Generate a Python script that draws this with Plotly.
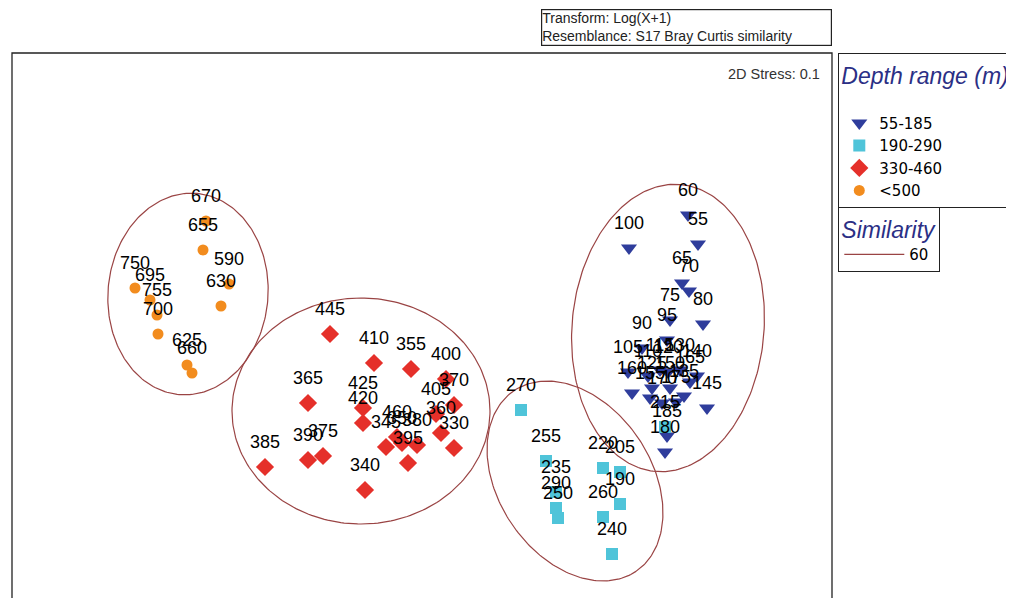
import numpy as np
import plotly.graph_objects as go

# ---- nMDS ordination coordinates (arbitrary MDS units) ----
lab_55 = ["60", "55", "100", "65", "70", "75", "80", "95", "90", "105", "115", "110", "120",
          "130", "140", "160", "125", "135", "150", "145", "155", "165", "170", "175", "185", "180"]
x_55 = [2.68, 2.78, 2.09, 2.62, 2.69, 2.50, 2.83, 2.47, 2.22, 2.08, 2.40, 2.28, 2.48,
        2.60, 2.77, 2.12, 2.32, 2.64, 2.50, 2.87, 2.30, 2.70, 2.42, 2.56, 2.47, 2.45]
y_55 = [1.15, 0.86, 0.82, 0.47, 0.39, 0.10, 0.06, -0.10, -0.18, -0.42, -0.40, -0.46, -0.42,
        -0.40, -0.46, -0.63, -0.58, -0.66, -0.58, -0.78, -0.68, -0.52, -0.73, -0.72, -1.06, -1.22]

lab_190 = ["270", "255", "235", "290", "250", "220", "205", "190", "260", "240", "215"]
x_190 = [1.01, 1.26, 1.36, 1.36, 1.38, 1.83, 2.00, 2.00, 1.83, 1.92, 2.45]
y_190 = [-0.80, -1.31, -1.62, -1.78, -1.88, -1.38, -1.42, -1.74, -1.87, -2.24, -0.97]

lab_330 = ["445", "410", "355", "400", "370", "365", "425", "420", "405", "360",
           "330", "385", "390", "375", "340", "460", "345", "350", "380", "395"]
x_330 = [-0.90, -0.46, -0.09, 0.26, 0.34, -1.12, -0.57, -0.57, 0.16, 0.21,
         0.34, -1.55, -1.12, -0.97, -0.55, -0.23, -0.34, -0.18, -0.03, -0.12]
y_330 = [-0.04, -0.33, -0.39, -0.49, -0.75, -0.73, -0.78, -0.93, -0.84, -1.03,
         -1.18, -1.37, -1.30, -1.26, -1.60, -1.07, -1.17, -1.13, -1.15, -1.33]

lab_500 = ["670", "655", "590", "630", "750", "695", "755", "700", "625", "660"]
x_500 = [-2.14, -2.17, -1.91, -1.99, -2.85, -2.70, -2.63, -2.62, -2.33, -2.28]
y_500 = [1.09, 0.80, 0.46, 0.24, 0.42, 0.30, 0.15, -0.04, -0.35, -0.43]

groups = ["55-185", "190-290", "330-460", "<500"]

# similarity (60%) contours: centre, semi-axes, rotation (deg)
ell_cx = [-2.32, -0.59, 1.55, 2.48]
ell_cy = [0.36, -0.81, -1.51, 0.02]
ell_a = [1.01, 1.29, 1.09, 1.44]
ell_b = [0.80, 1.13, 0.765, 0.96]
ell_ang = [85, 0, -56, 85]

FONT = "Liberation Sans, Arial, sans-serif"
LFONT = "DejaVu Sans, sans-serif"
series = [
    (groups[0], x_55, y_55, lab_55, "triangle-down", 14, "#2f3d9c"),
    (groups[1], x_190, y_190, lab_190, "square", 12, "#4fc4d9"),
    (groups[2], x_330, y_330, lab_330, "diamond", 14, "#e5302a"),
    (groups[3], x_500, y_500, lab_500, "circle", 11, "#f28c1e"),
]

# page body has an 8px margin; figure is laid out so the picture lines up
W, H = 1006, 590

fig = go.Figure()

ex, ey = [], []
t = np.linspace(0, 2 * np.pi, 241)
for cx, cy, a, b, ang in zip(ell_cx, ell_cy, ell_a, ell_b, ell_ang):
    th = np.deg2rad(ang)
    ex += list(cx + a * np.cos(t) * np.cos(th) - b * np.sin(t) * np.sin(th)) + [None]
    ey += list(cy + a * np.cos(t) * np.sin(th) + b * np.sin(t) * np.cos(th)) + [None]
fig.add_trace(go.Scatter(x=ex, y=ey, mode="lines", name="60",
                         line=dict(color="#9a4444", width=1.2),
                         legend="legend2", hoverinfo="skip"))

# blank spacer row under the legend title
fig.add_trace(go.Scatter(x=[None], y=[None], mode="markers", name=" ",
                         marker=dict(size=0, color="rgba(0,0,0,0)", line=dict(width=0)),
                         hoverinfo="skip"))

for name, xs, ys, labs, sym, size, col in series:
    fig.add_trace(go.Scatter(x=xs, y=ys, mode="markers", name=name,
                             marker=dict(symbol=sym, size=size, color=col, line=dict(width=0))))

for name, xs, ys, labs, sym, size, col in series:
    fig.add_trace(go.Scatter(x=xs, y=ys, mode="markers+text", text=labs,
                             textposition="top center", showlegend=False,
                             marker=dict(size=22, opacity=0),
                             textfont=dict(family=FONT, size=18, color="black"),
                             hoverinfo="skip"))

fig.update_xaxes(range=[-4.08, 4.12], visible=False)
fig.update_yaxes(range=[-2.68, 2.77], visible=False)

fig.add_shape(type="rect", xref="paper", yref="paper", x0=0, x1=1, y0=-0.05, y1=1,
              line=dict(color="#222", width=1.3))

fig.add_annotation(xref="paper", yref="paper", x=0.6451, y=1.0128, xanchor="left", yanchor="bottom",
                   text="Transform: Log(X+1)<br>Resemblance: S17 Bray Curtis similarity",
                   align="left", showarrow=False, width=289,
                   font=dict(family=FONT, size=14, color="#222"),
                   bordercolor="#222", borderwidth=1.2, borderpad=0, bgcolor="white")
fig.add_annotation(xref="paper", yref="paper", x=0.9878, y=0.9615, xanchor="right", yanchor="middle",
                   text="2D Stress: 0.1", showarrow=False,
                   font=dict(family=FONT, size=14.5, color="#333"))

fig.update_layout(
    width=W, height=H,
    margin=dict(l=4, r=182, t=45, b=0, autoexpand=False),
    paper_bgcolor="white", plot_bgcolor="white",
    legend=dict(xref="container", yref="container", x=830 / W, y=1 - 45 / H,
                xanchor="left", yanchor="top",
                title=dict(text="Depth range (m)",
                           font=dict(family=FONT, size=23, color="#2b2f85", style="italic")),
                font=dict(family=LFONT, size=15, color="black"),
                bordercolor="#222", borderwidth=1.3, bgcolor="white", itemwidth=30),
    legend2=dict(xref="container", yref="container", x=830 / W, y=1 - 199 / H,
                 xanchor="left", yanchor="top",
                 title=dict(text="Similarity",
                            font=dict(family=FONT, size=23, color="#2b2f85", style="italic")),
                 font=dict(family=LFONT, size=15, color="black"),
                 bordercolor="#222", borderwidth=1.3, bgcolor="white", itemwidth=60),
    showlegend=True,
)

fig.write_html("out.html")
